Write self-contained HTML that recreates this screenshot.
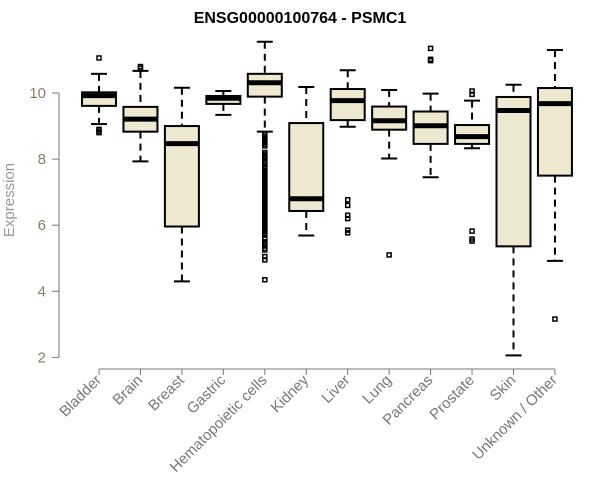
<!DOCTYPE html>
<html><head><meta charset="utf-8"><style>
body{margin:0;background:#fff}
svg{display:block;font-family:"Liberation Sans",sans-serif}
</style></head><body>
<svg id="chart" width="600" height="500">
<text x="300" y="23" text-anchor="middle" font-size="16" font-weight="bold" fill="#000">ENSG00000100764 - PSMC1</text>
<text transform="translate(14,200) rotate(-90)" text-anchor="middle" font-size="15" fill="#999">Expression</text>
<g id="yaxis"></g>
<g id="xaxis"></g>
<g id="boxes"></g>
</svg>
<script>
const categories=["Bladder","Brain","Breast","Gastric","Hematopoietic cells","Kidney","Liver","Lung","Pancreas","Prostate","Skin","Unknown / Other"];
const whiskerHigh=[10.58,10.67,10.16,10.06,11.55,10.18,10.69,10.09,9.98,9.77,10.25,11.3];
const q3=[10.02,9.58,9.0,9.91,10.58,9.09,10.12,9.59,9.44,9.03,9.88,10.15];
const medians=[9.92,9.21,8.47,9.84,10.31,6.8,9.77,9.16,9.01,8.68,9.47,9.68];
const q1=[9.61,8.83,5.96,9.67,9.89,6.43,9.18,8.89,8.46,8.46,5.36,7.5];
const whiskerLow=[9.06,7.93,4.3,9.34,8.83,5.69,8.98,8.02,7.45,8.33,2.06,4.92];
const outliers=[
 [11.06,8.9,8.85,8.8],
 [10.8,10.75],
 [],[],
 [8.76,8.7,8.65,8.6,8.55,8.5,8.45,8.4,8.2,8.15,8.1,8.05,7.95,7.9,7.85,7.75,7.7,7.65,7.6,7.55,7.5,7.45,7.4,7.35,7.3,7.25,7.2,7.15,7.1,7.05,7.0,6.95,6.9,6.85,6.8,6.75,6.7,6.65,6.6,6.55,6.5,6.45,6.4,6.35,6.3,6.25,6.2,6.15,6.1,6.05,6.0,5.95,5.9,5.85,5.8,5.75,5.7,5.6,5.5,5.45,5.4,5.3,5.25,5.05,4.95,4.35],
 [],
 [6.77,6.6,6.3,6.2,5.85,5.77],
 [5.1],
 [11.35,11.02,10.98],
 [10.06,9.96,5.82,5.58,5.52],
 [],
 [3.16]
];
const yTicks=[2,4,6,8,10];
const ns="http://www.w3.org/2000/svg";
const y=v=>93+(10-v)*33.05;
const x=i=>99+i*41.45;
function mk(t,a,p){const e=document.createElementNS(ns,t);for(const k in a)e.setAttribute(k,a[k]);p.appendChild(e);return e;}
const ya=document.getElementById('yaxis');
mk('line',{x1:59,x2:59,y1:y(2),y2:y(10),stroke:'#777'},ya);
yTicks.forEach(t=>{
 const l=mk('line',{x1:52,x2:59,y1:y(t),y2:y(t),stroke:'#777'},ya);
 
 
 const tx=mk('text',{x:46,y:y(t)+5,'text-anchor':'end','font-size':15,fill:'#8b7d6b'},ya);tx.textContent=t;
 
 
});
const xa=document.getElementById('xaxis');
mk('line',{x1:x(0),x2:x(11),y1:369,y2:369,stroke:'#777'},xa);
categories.forEach((c,i)=>{
 const l=mk('line',{x1:x(i),x2:x(i),y1:369,y2:375,stroke:'#777'},xa);
 
 
 const tx=mk('text',{transform:`translate(${x(i)+3},381) rotate(-45)`,'text-anchor':'end','font-size':15,fill:'#777'},xa);tx.textContent=c;
 
 
});
const bx=document.getElementById('boxes');
categories.forEach((c,i)=>{
 const g=mk('g',{},bx);
 
 
 const cx=x(i),w=17;
 mk('line',{x1:cx,x2:cx,y1:y(whiskerHigh[i]),y2:y(q3[i]),stroke:'#000','stroke-width':2,'stroke-dasharray':'7,5'},g);
 mk('line',{x1:cx,x2:cx,y1:y(q1[i]),y2:y(whiskerLow[i]),stroke:'#000','stroke-width':2,'stroke-dasharray':'7,5'},g);
 mk('line',{x1:cx-8,x2:cx+8,y1:y(whiskerHigh[i]),y2:y(whiskerHigh[i]),stroke:'#000','stroke-width':2},g);
 mk('line',{x1:cx-8,x2:cx+8,y1:y(whiskerLow[i]),y2:y(whiskerLow[i]),stroke:'#000','stroke-width':2},g);
 mk('rect',{x:cx-w,y:y(q3[i]),width:2*w,height:y(q1[i])-y(q3[i]),fill:'#ede8cf',stroke:'#000','stroke-width':2},g);
 mk('line',{x1:cx-w,x2:cx+w,y1:y(medians[i]),y2:y(medians[i]),stroke:'#000','stroke-width':5},g);
 outliers[i].forEach(v=>{
  const o=mk('rect',{x:cx-2,y:y(v)-2,width:4,height:4,fill:'none',stroke:'#000','stroke-width':1.5},g);
  
  
 });
});
</script>
</body></html>
